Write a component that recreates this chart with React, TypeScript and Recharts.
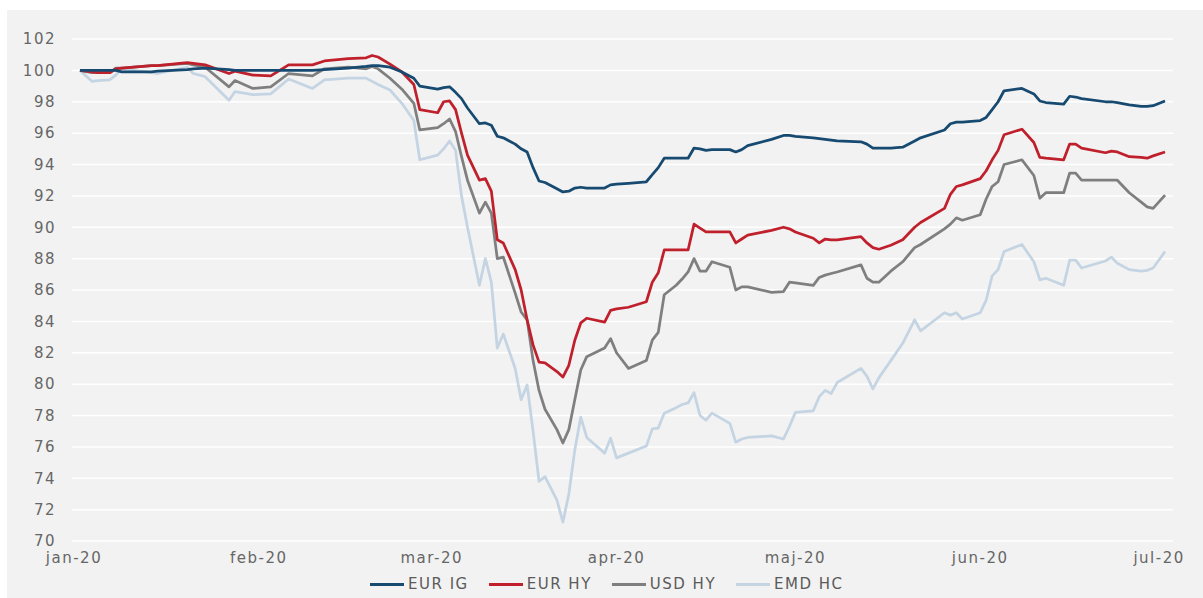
import React from 'react';
import { LineChart, Line, XAxis, YAxis, CartesianGrid } from 'recharts';

// day index counted from 1 Jan 2020
const days = [1,3,4,6,7,8,13,14,19,20,22,26,27,30,33,36,40,42,46,49,50,51,53,55,57,58,61,62,63,64,65,66,68,69,70,71,72,74,75,76,77,78,79,81,82,83,84,85,86,89,90,91,93,96,97,98,99,101,102,103,104,105,106,107,110,111,112,113,117,119,120,121,124,125,126,127,128,132,133,134,135,137,139,141,142,146,147,148,149,152,153,154,155,156,159,161,162,163,166,167,168,169,173,174,175,177,179,180,181,183];

const eurIG = [100.0,100.0,100.0,100.0,100.0,99.9,99.9,99.95,100.05,100.1,
100.15,100.05,100.0,100.0,100.0,100.0,100.0,100.05,100.15,100.25,
100.3,100.3,100.2,99.9,99.5,99.0,98.8,98.9,98.95,98.6,
98.2,97.6,96.6,96.65,96.5,95.8,95.7,95.3,95.0,94.8,
93.8,92.95,92.85,92.45,92.25,92.3,92.5,92.55,92.5,92.5,
92.7,92.75,92.8,92.9,93.35,93.8,94.4,94.4,94.4,94.4,
95.05,95.0,94.9,94.95,94.95,94.8,94.95,95.2,95.6,95.85,
95.85,95.8,95.7,95.65,95.6,95.55,95.5,95.45,95.3,95.05,
95.05,95.05,95.1,95.5,95.7,96.2,96.6,96.7,96.7,96.8,
97.0,97.5,98.0,98.7,98.85,98.5,98.05,97.95,97.85,98.35,
98.3,98.2,98.0,98.0,97.95,97.8,97.7,97.7,97.75,98.05];

const eurHY = [100,99.9,99.85,99.85,100.1,100.15,100.3,100.3,100.5,100.45,
100.35,99.8,99.95,99.7,99.65,100.35,100.35,100.6,100.75,100.8,
100.95,100.85,100.4,99.9,99.1,97.5,97.3,98.0,98.05,97.5,
96.0,94.6,93.0,93.1,92.3,89.2,89.0,87.3,86.0,84.1,
82.5,81.4,81.35,80.8,80.45,81.2,82.8,83.9,84.2,83.95,
84.7,84.8,84.9,85.25,86.5,87.1,88.55,88.55,88.55,88.55,
90.2,89.95,89.7,89.7,89.7,89.0,89.25,89.5,89.8,90.0,
89.9,89.7,89.3,89.0,89.25,89.2,89.2,89.4,89.0,88.7,
88.6,88.85,89.2,90.0,90.3,91.2,92.1,92.6,92.7,93.1,
93.6,94.3,94.9,95.9,96.25,95.4,94.45,94.4,94.3,95.3,
95.3,95.05,94.75,94.85,94.8,94.5,94.45,94.4,94.55,94.8];

const usdHY = [100,99.85,99.85,99.85,100.15,100.15,100.3,100.3,100.45,100.35,
100.2,98.95,99.35,98.85,98.95,99.8,99.65,100.1,100.2,100.1,
100.25,100.1,99.5,98.8,97.9,96.2,96.35,96.6,96.9,96.1,
94.5,93.0,90.9,91.6,90.9,88.0,88.1,85.8,84.6,84.1,
81.5,79.6,78.4,77.1,76.25,77.1,79.0,80.9,81.75,82.3,
82.9,82.0,81.0,81.5,82.8,83.3,85.7,86.3,86.7,87.15,
88.0,87.2,87.2,87.8,87.45,86.0,86.2,86.2,85.85,85.9,
86.5,86.45,86.3,86.8,86.95,87.05,87.15,87.6,86.75,86.5,
86.5,87.2,87.8,88.7,88.9,89.9,90.2,90.6,90.45,90.8,
91.8,92.6,92.9,94.0,94.3,93.3,91.85,92.2,92.2,93.45,
93.45,93.0,93.0,93.0,93.0,92.2,91.6,91.3,91.2,92.05];

const emdHC = [100,99.3,99.35,99.4,99.7,100.1,99.85,99.8,100.2,99.8,
99.6,98.1,98.65,98.45,98.5,99.45,98.85,99.4,99.5,99.5,
99.3,99.1,98.75,97.9,96.8,94.3,94.6,95.0,95.5,94.9,
92.0,90.0,86.3,88.0,86.5,82.3,83.2,81.0,79.0,79.95,
77.0,73.8,74.1,72.6,71.2,73.0,75.8,77.9,76.6,75.6,
76.55,75.3,75.6,76.05,77.15,77.2,78.15,78.5,78.7,78.8,
79.45,78.0,77.7,78.15,77.5,76.3,76.5,76.6,76.7,76.5,
77.3,78.2,78.3,79.2,79.6,79.4,80.1,81.0,80.5,79.7,
80.4,81.5,82.6,84.1,83.4,84.55,84.4,84.55,84.15,84.55,
85.35,86.9,87.3,88.45,88.9,87.8,86.65,86.75,86.3,87.9,
87.9,87.4,87.85,88.1,87.7,87.3,87.2,87.25,87.4,88.45];

const monthTicks = [0, 31, 60, 91, 121, 152, 182];
const monthLabels = ['jan-20', 'feb-20', 'mar-20', 'apr-20', 'maj-20', 'jun-20', 'jul-20'];
const yTicks = [70, 72, 74, 76, 78, 80, 82, 84, 86, 88, 90, 92, 94, 96, 98, 100, 102];

const seriesNames = ['EUR IG', 'EUR HY', 'USD HY', 'EMD HC'];
const seriesKeys = ['eurIG', 'eurHY', 'usdHY', 'emdHC'];
const seriesColors = ['#174a70', '#c0202b', '#7f7f7f', '#c4d4e3'];

const data = days.map((d, i) => ({
  day: d,
  eurIG: eurIG[i],
  eurHY: eurHY[i],
  usdHY: usdHY[i],
  emdHC: emdHC[i],
}));

const FONT = '"DejaVu Sans", sans-serif';

export default function App() {
  return (
    <div style={{ position: 'absolute', left: 0, top: 0, width: 1203, height: 598, background: '#ffffff', overflow: 'hidden' }}>
      <div style={{ position: 'absolute', left: 7, top: 10, width: 1196, height: 588, background: '#f2f2f2' }}>
        <LineChart
          width={1196}
          height={588}
          data={data}
          margin={{ top: 29, right: 30, left: 0, bottom: 27 }}
        >
          <CartesianGrid vertical={false} stroke="#ffffff" strokeWidth={1.5} horizontalValues={yTicks} />
          <XAxis
            dataKey="day"
            type="number"
            domain={[0, 184]}
            ticks={monthTicks}
            interval={0}
            padding={{ left: 2, right: 2 }}
            tickFormatter={(v) => monthLabels[monthTicks.indexOf(v)] ?? ''}
            axisLine={false}
            tickLine={false}
            tickSize={0}
            tickMargin={11}
            height={30}
            tick={{ fill: '#666666', fontSize: 15, fontFamily: FONT, letterSpacing: 1.5 }}
          />
          <YAxis
            type="number"
            domain={[70, 102]}
            ticks={yTicks}
            interval={0}
            axisLine={false}
            tickLine={false}
            tickSize={0}
            tickMargin={16}
            width={65}
            tick={{ fill: '#666666', fontSize: 15, fontFamily: FONT, letterSpacing: 1.5 }}
          />
          {seriesKeys.slice().reverse().map((k) => {
            const idx = seriesKeys.indexOf(k);
            return (
              <Line
                key={k}
                type="linear"
                dataKey={k}
                stroke={seriesColors[idx]}
                strokeWidth={2.75}
                dot={false}
                activeDot={false}
                isAnimationActive={false}
                strokeLinejoin="round"
              />
            );
          })}
        </LineChart>
        <div
          style={{
            position: 'absolute',
            left: 363,
            top: 565,
            height: 18,
            display: 'flex',
            alignItems: 'center',
            gap: 20,
            fontFamily: FONT,
            fontSize: 15,
            letterSpacing: 1.5,
            color: '#5a5a5a',
            whiteSpace: 'nowrap',
          }}
        >
          {seriesNames.map((n, i) => (
            <div key={n} style={{ display: 'flex', alignItems: 'center' }}>
              <div style={{ width: 34, height: 3, background: seriesColors[i], marginRight: 4 }} />
              <span>{n}</span>
            </div>
          ))}
        </div>
      </div>
    </div>
  );
}
